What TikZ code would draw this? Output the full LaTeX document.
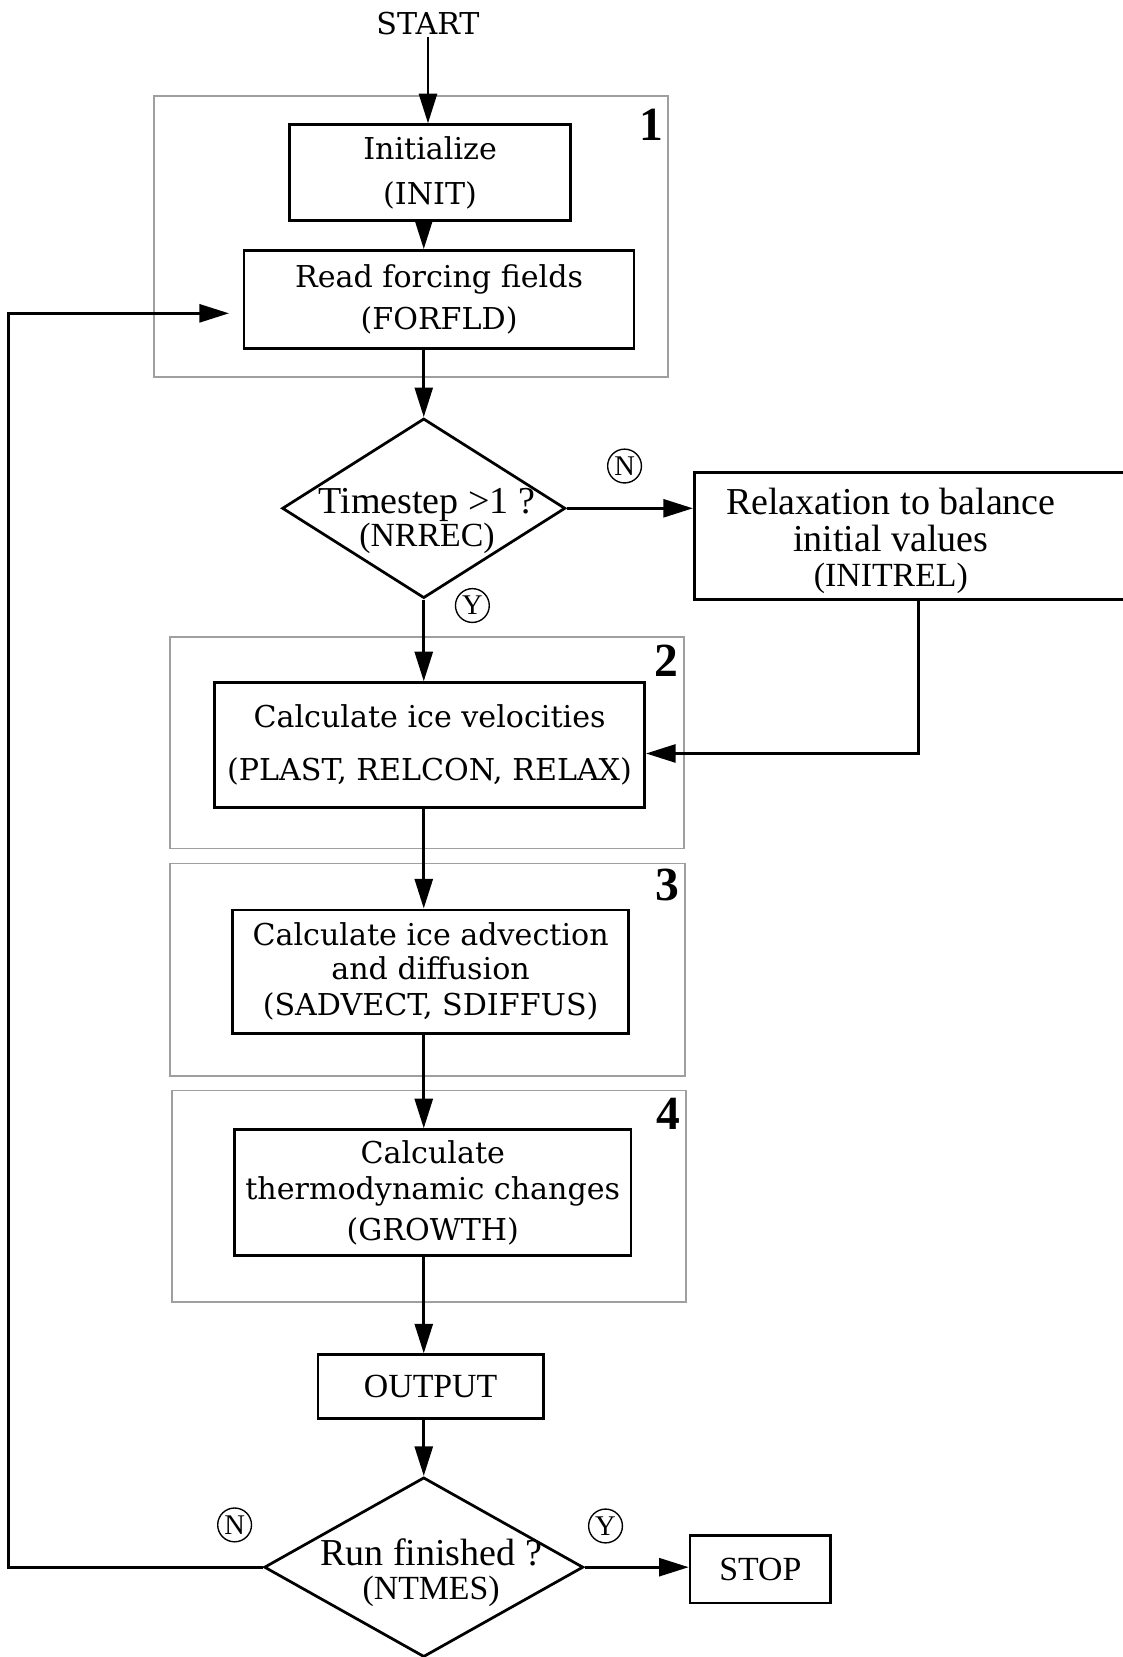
\documentclass[tikz,border=0pt]{standalone}
\usepackage{fontspec}
\setmainfont{Liberation Serif}
\newfontfamily\schoolfont{DejaVu Serif}
\usetikzlibrary{shapes.geometric,arrows.meta,positioning}
\newcommand{\sbfont}{\schoolfont\fontsize{28.5}{32}\selectfont}
\newcommand{\tmfont}{\fontsize{36}{32}\selectfont}
\newcommand{\tmcaps}{\fontsize{32}{32}\selectfont}
\begin{document}
\begin{tikzpicture}[x=1pt,y=-1pt,
  proc/.style={draw,line width=2.6pt,inner sep=0pt,align=center,font=\sbfont},
  grp/.style={draw=gray!75,line width=1.5pt,inner sep=0pt},
  decide/.style={draw,diamond,line width=2.6pt,inner sep=0pt},
  txt/.style={align=center,inner sep=0pt,font=\tmfont},
  yn/.style={draw,circle,line width=1.3pt,minimum size=32pt,inner sep=0pt,font=\fontsize{27}{27}\selectfont},
  num/.style={font=\fontsize{45}{45}\selectfont\bfseries,inner sep=0pt,anchor=north east},
  arr/.style={line width=2.6pt,-{Triangle[length=28pt,width=17pt]}}]
\useasboundingbox (0,0) rectangle (1062,1568);
\coordinate (axis) at (401,0);
\coordinate (back) at (8,0);

% the four parts
\node[grp,minimum width=486,minimum height=266] (grp1) at (389,224) {};
\node[grp,minimum width=486,minimum height=200] (grp2) at (404,703) {};
\node[grp,minimum width=487,minimum height=201] (grp3) at (404.5,917.5) {};
\node[grp,minimum width=486,minimum height=200] (grp4) at (406,1132) {};
\node[num] (num1) at ([shift={(-5,13)}]grp1.north east) {1};
\node[num] (num2) at ([shift={(-6,8)}]grp2.north east) {2};
\node[num] (num3) at ([shift={(-6,6)}]grp3.north east) {3};
\node[num] (num4) at ([shift={(-6,8)}]grp4.north east) {4};

% steps
\node[inner sep=2pt,font=\sbfont] (start) at (405,22) {START};
\node[proc,minimum width=266,minimum height=91] (init) at (407,163.5) {Initialize\\[11pt](INIT)};
\node[proc,minimum width=369,minimum height=93] (read) at (415.5,283.5) {Read forcing fields\\[8pt](FORFLD)};
\node[decide,minimum width=268,minimum height=170] (dia1) at (401,481) {};
\node[txt] (dia1t) at ([shift={(3,12)}]dia1.center) {Timestep >1 ?\\{\tmcaps (NRREC)}};
\node[proc,minimum width=412,minimum height=120] (relax) at (863,507) {};
\node[txt] (relaxt) at (843,512) {Relaxation to balance\\[3pt]initial values\\[1pt]{\tmcaps (INITREL)}};
\node[proc,minimum width=407,minimum height=118] (vel) at (406.5,705) {Calculate ice velocities\\[18pt](PLAST, RELCON, RELAX)};
\node[proc,minimum width=375,minimum height=117] (adv) at (407.5,919.5) {Calculate ice advection\\and diffusion\\[2pt](SADVECT, SDIFFUS)};
\node[proc,minimum width=375,minimum height=119] (thermo) at (409.5,1128.5) {Calculate\\[2pt]thermodynamic changes\\[7pt](GROWTH)};
\node[proc,minimum width=213,minimum height=60,font=\tmcaps] (output) at (407.5,1312) {OUTPUT};
\node[decide,minimum width=302,minimum height=170] (dia2) at (401,1483) {};
\node[txt] (dia2t) at ([shift={(7,5)}]dia2.center) {Run finished ?\\{\tmcaps (NTMES)}};
\node[proc,minimum width=133,minimum height=64,font=\tmcaps] (stop) at (719.5,1485) {STOP};

% answers
\node[yn] (noA) at (591,441) {N};
\node[yn] (yesA) at (447,573) {Y};
\node[yn] (noB) at (222,1443) {N};
\node[yn] (yesB) at (573,1444) {Y};

% flow
\draw[arr] (start) -- (start |- init.north);
\draw[arr] (init.south -| axis) -- (read.north -| axis);
\draw[arr] (read.south -| axis) -- (dia1.north);
\draw[arr] (dia1.east) -- (relax.west |- dia1.east);
\draw[arr] (dia1.south) -- (vel.north -| dia1.south);
\draw[arr] ([xshift=6pt]relax.south) |- ([yshift=-8pt]vel.east);
\draw[arr] (vel.south -| axis) -- (adv.north -| axis);
\draw[arr] (adv.south -| axis) -- (thermo.north -| axis);
\draw[arr] (thermo.south -| axis) -- (output.north -| axis);
\draw[arr] (output.south -| axis) -- (dia2.north);
\draw[arr] (dia2.east) -- (stop.west |- dia2.east);
\draw[arr] (dia2.west) -- (dia2.west -| back) |- ([xshift=-13pt,yshift=-13pt]read.west);
\end{tikzpicture}
\end{document}
